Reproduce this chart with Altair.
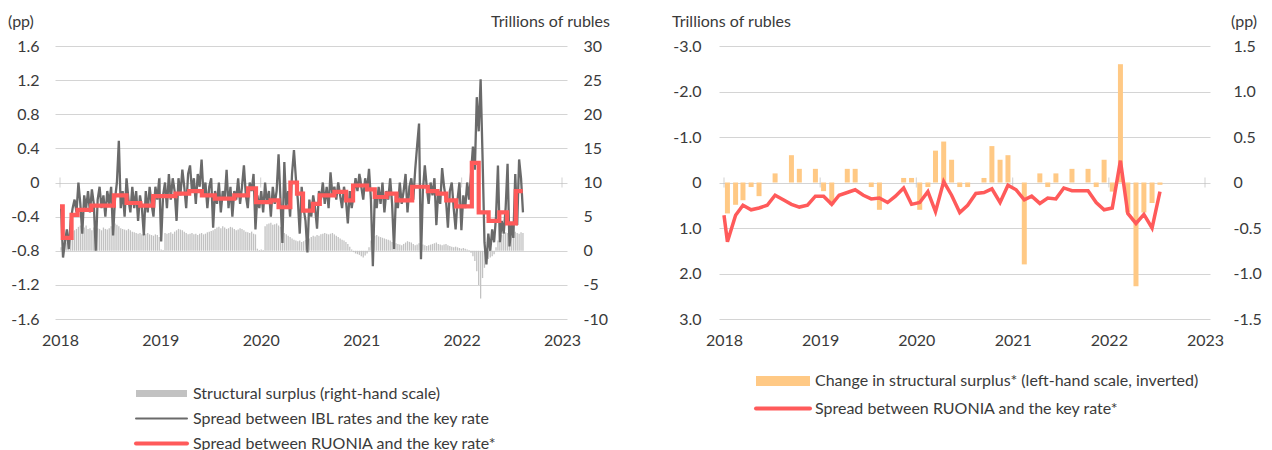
import altair as alt
import pandas as pd

FONT = "Lato"
TEXT = "#3a3a3a"
GRID = "#d4d4d4"
RED = "#ff5a5a"
DARK = "#6a6a6a"
LIGHT = "#c2c2c2"
ORANGE = "#ffc985"
FS = 16

# ---------------- Left chart data ----------------
# weekly spread between IBL rates and the key rate (pp), from 2018-01-05
ibl_start = "2018-01-05"
ibl = [
    -0.30, -0.88, -0.70, -0.55, -0.78, -0.45, -0.30, -0.20, -0.35, 0.00,
    -0.25, -0.60, -0.15, -0.30, -0.10, -0.35, -0.08, -0.25, -0.80, -0.20,
    -0.05, -0.30, -0.15, -0.40, -0.10, -0.25, -0.05, -0.62, -0.20, 0.00,
    0.49, -0.30, -0.10, -0.40, 0.05, -0.20, -0.35, -0.05, -0.30, -0.10,
    -0.45, -0.15, -0.30, -0.62, -0.10, -0.35, -0.05, -0.25, -0.40, -0.05,
    -0.20, 0.05, -0.69, -0.15, 0.00, -0.30, 0.10, -0.20, 0.05, -0.10,
    -0.45, 0.05, -0.15, 0.15, -0.05, -0.30, 0.10, 0.20, -0.10, 0.05,
    -0.25, 0.10, -0.05, 0.27, -0.15, 0.00, -0.30, -0.05, 0.05, -0.53,
    -0.10, -0.25, 0.00, -0.35, -0.10, -0.20, 0.15, -0.30, -0.05, -0.40,
    -0.10, -0.20, 0.05, -0.25, -0.05, 0.20, -0.15, -0.30, 0.00, -0.10,
    0.10, -0.55, -0.15, -0.30, -0.10, -0.35, 0.00, -0.25, -0.10, -0.40,
    -0.05, -0.25, -0.10, 0.33, -0.20, -0.71, 0.24, -0.30, -0.10, -0.40,
    0.10, 0.38, 0.05, -0.20, -0.60, -0.05, -0.30, -0.45, -0.82, -0.20,
    -0.40, -0.15, -0.30, -0.54, -0.10, -0.20, 0.00, -0.25, -0.05, -0.30,
    0.12, -0.15, -0.05, -0.20, 0.00, -0.15, -0.30, -0.05, -0.20, -0.48,
    -0.10, -0.30, -0.15, 0.05, -0.10, 0.10, -0.05, -0.20, 0.05, -0.10,
    0.16, -0.20, -0.98, -0.15, -0.30, -0.05, -0.25, 0.00, -0.35, -0.10,
    -0.20, 0.05, -0.25, -0.78, -0.15, -0.30, 0.00, -0.25, -0.10, 0.10,
    -0.35, -0.05, 0.05, -0.20, 0.15, 0.43, 0.69, -0.90, -0.10, 0.20,
    -0.05, -0.25, 0.00, -0.15, 0.05, -0.50, -0.10, -0.25, 0.17, -0.05,
    -0.20, -0.53, -0.10, 0.00, -0.30, -0.55, -0.20, 0.00, -0.56, -0.15,
    -0.30, 0.00, -0.20, 0.10, 0.42, 0.15, 1.00, 0.60, 1.21, 0.30,
    -0.70, -0.96, -0.60, -0.80, -0.55, -0.70, -0.40, 0.20, -0.70, -0.45,
    -0.60, -0.30, 0.22, -0.75, -0.50, -0.65, 0.10, -0.50, 0.27, 0.05, -0.35,
]

# weekly structural surplus (trillions of rubles), from 2018-01-05
surplus = [
    0.5, 0.8, 1.0, 1.2, 1.5, 2.2, 2.9, 3.0, 3.2, 3.5,
    3.7, 3.6, 3.4, 3.7, 3.2, 3.3, 3.0, 3.4, 3.1, 3.3,
    3.2, 3.0, 3.4, 3.2, 3.1, 3.3, 3.6, 3.9, 4.0, 3.8,
    3.6, 3.3, 3.2, 3.1, 3.0, 3.2, 3.0, 2.8, 2.7, 2.6,
    2.5, 2.6, 2.4, 2.3, 2.5, 2.6, 2.4, 2.3, 2.2, 2.4,
    2.3, 2.0, 0.2, 0.1, 2.6, 2.5, 2.6, 2.7, 2.5, 2.8,
    3.0, 3.2, 3.1, 3.0, 2.8, 2.6, 2.4, 2.5, 2.6, 2.4,
    2.5, 2.3, 2.5, 2.6, 2.4, 2.5, 2.7, 2.8, 2.9, 3.0,
    3.2, 3.4, 3.5, 3.3, 3.6, 3.4, 3.2, 3.3, 3.5, 3.4,
    3.2, 3.0, 3.1, 3.3, 3.2, 3.0, 2.8, 2.7, 2.6, 2.8,
    2.5, 2.4, 0.3, 0.1, 0.2, 0.1, 3.6, 3.9, 4.0, 4.1,
    3.8, 3.9, 4.0, 3.7, 3.5, 3.2, 2.6, 2.4, 2.2, 2.0,
    1.8, 1.6, 1.5, 1.4, 1.5, 1.3, 1.4, 1.6, 1.5, 1.8,
    2.0, 2.2, 2.1, 2.3, 2.2, 2.4, 2.5, 2.6, 2.5, 2.4,
    2.5, 2.6, 2.4, 2.2, 2.0, 1.8, 1.6, 1.5, 1.3, 1.0,
    0.6, 0.2, -0.2, -0.4, -0.5, -0.6, -0.8, -1.0, -0.7, -0.4,
    0.5, 1.5, 2.0, 2.2, 2.3, 2.1, 2.0, 1.9, 1.8, 1.7,
    1.6, 1.5, 1.3, 1.2, 1.1, 1.0, 0.9, 0.8, 1.0, 1.2,
    1.4, 1.3, 1.2, 1.0, 0.8, 0.9, 1.1, 1.0, 0.9, 0.8,
    0.7, 0.8, 0.9, 1.0, 1.1, 1.2, 1.0, 0.9, 0.8, 0.9,
    1.0, 0.8, 0.7, 0.6, 0.5, 0.6, 0.5, 0.4, 0.3, 0.4,
    0.3, 0.2, 0.1, -0.3, -0.8, -1.5, -3.0, -5.0, -7.0, -4.0,
    -2.5, -1.5, -1.2, -1.0, -0.8, -0.5, 0.5, 1.5, 2.0, 2.3,
    2.5, 2.7, 2.6, 2.4, 2.5, 2.7, 2.8, 2.6, 2.5, 2.7, 2.6,
]

# RUONIA minus key rate (pp), step changes
ruonia_dates = [
    "2018-01-01", "2018-01-11", "2018-02-12", "2018-03-06", "2018-04-25",
    "2018-07-16", "2018-08-31", "2018-10-20", "2018-12-06", "2019-02-25",
    "2019-04-16", "2019-06-01", "2019-07-18", "2019-09-27", "2019-11-16",
    "2019-12-15", "2020-02-06", "2020-03-06", "2020-04-18", "2020-05-12",
    "2020-06-03", "2020-07-09", "2020-08-03", "2020-09-25", "2020-11-07",
    "2020-12-02", "2021-01-22", "2021-02-19", "2021-04-03", "2021-05-09",
    "2021-07-05", "2021-08-31", "2021-10-05", "2021-11-06", "2021-12-12",
    "2022-02-07", "2022-03-04", "2022-04-09", "2022-05-18", "2022-06-15",
    "2022-07-17", "2022-08-11",
]
ruonia_steps = [
    -0.28, -0.65, -0.38, -0.32, -0.27, -0.15, -0.24, -0.27, -0.16, -0.13,
    -0.10, -0.15, -0.19, -0.15, -0.07, -0.23, -0.21, -0.29, 0.00, -0.13,
    -0.33, -0.25, -0.15, -0.11, -0.21, -0.035, -0.08, -0.17, -0.13, -0.21,
    -0.05, -0.10, -0.13, -0.21, -0.28, 0.23, -0.35, -0.45, -0.35, -0.48,
    -0.10, -0.10,
]

# ---------------- Right chart data ----------------
months = [f"{y}-{m:02d}-14" for y in range(2018, 2023) for m in range(1, 13)][:55]
surplus_change = [
    0.68, 0.49, 0.39, 0.10, 0.30, 0.00, -0.20, 0.00, -0.60, -0.30, 0.00, -0.30,
    0.19, 0.49, 0.00, -0.30, -0.30, 0.00, 0.10, 0.60, 0.00, 0.00, -0.10, -0.10,
    0.60, 0.10, -0.70, -0.90, -0.50, 0.10, 0.10, 0.00, -0.10, -0.80, -0.50, -0.60,
    0.00, 1.80, 0.00, -0.20, 0.10, -0.20, 0.00, -0.30, 0.00, -0.30, 0.10, -0.50,
    0.20, -2.60, 0.66, 2.28, 0.66, 0.45, 0.05,
]
ruonia_start = ("2018-01-01", -0.36)
ruonia_monthly = [
    -0.65, -0.36, -0.25, -0.30, -0.28, -0.25, -0.14, -0.19, -0.24, -0.27, -0.25, -0.15,
    -0.15, -0.24, -0.14, -0.11, -0.08, -0.14, -0.18, -0.17, -0.22, -0.15, -0.06, -0.24,
    -0.22, -0.10, -0.32, 0.01, -0.14, -0.33, -0.25, -0.12, -0.11, -0.07, -0.22, -0.03,
    -0.08, -0.19, -0.15, -0.23, -0.17, -0.18, -0.06, -0.09, -0.09, -0.09, -0.22, -0.30,
    -0.28, 0.24, -0.34, -0.45, -0.35, -0.50, -0.10,
]

year_ticks = [f"{y}-01-01" for y in range(2018, 2024)]
left_pp_ticks = [round(-1.6 + 0.4 * i, 1) for i in range(9)]
left_tn_ticks = list(range(-10, 31, 5))
right_tn_ticks = [-3.0, -2.0, -1.0, 0.0, 1.0, 2.0, 3.0]
right_pp_ticks = [-1.5, -1.0, -0.5, 0.0, 0.5, 1.0, 1.5]

left_legend = [
    "Structural surplus (right-hand scale)",
    "Spread between IBL rates and the key rate",
    "Spread between RUONIA and the key rate*",
]
right_legend = [
    "Change in structural surplus* (left-hand scale, inverted)",
    "Spread between RUONIA and the key rate*",
]
unit_pp = "(pp)"
unit_tn = "Trillions of rubles"

# ---------------- build ----------------
def label_expr(dec):
    return (f"datum.value == 0 ? '0' : (datum.value < 0 ? '-' : '') + "
            f"format(abs(datum.value), '.{dec}f')")

xdom = [alt.DateTime(year=2018, month=1, date=1), alt.DateTime(year=2023, month=1, date=1)]
year_vals = [alt.DateTime(year=y, month=1, date=1) for y in range(2018, 2024)]

X_AXIS = alt.Axis(values=year_vals, format="%Y", title=None, grid=False,
                  domain=False, ticks=False, labelPadding=13,
                  labelFontSize=FS, labelColor=TEXT, labelFont=FONT,
                  labelOverlap=False)
X_SCALE = alt.Scale(domain=xdom)
NOVIEW = alt.ViewBackground(stroke=None)


def xenc():
    return alt.X("date:T", scale=X_SCALE, axis=X_AXIS)


def yaxis(orient, values, dec, pad, grid):
    return alt.Axis(orient=orient, values=values, labelExpr=label_expr(dec),
                    title=None, grid=grid, gridColor=GRID, gridWidth=1,
                    domain=False, ticks=False, labelPadding=pad,
                    labelFontSize=FS, labelColor=TEXT, labelFont=FONT,
                    labelOverlap=False, labelBound=False,
                    labelAlign="left" if orient == "right" else "right")


one = pd.DataFrame({"a": [0]})


def txt(x, y, s, align="left"):
    return alt.Chart(one).mark_text(align=align, baseline="middle", fontSize=FS,
                                    color=TEXT, font=FONT).encode(
        x=alt.value(x), y=alt.value(y), text=alt.value(s))


def sw_rect(x1, x2, y1, y2, color):
    return alt.Chart(one).mark_rect(color=color).encode(
        x=alt.value(x1), x2=alt.value(x2), y=alt.value(y1), y2=alt.value(y2))


def sw_line(x1, x2, y, color, w):
    return alt.Chart(one).mark_rule(color=color, strokeWidth=w, strokeCap="round").encode(
        x=alt.value(x1), x2=alt.value(x2), y=alt.value(y))


ticks_df = pd.DataFrame({"date": year_ticks, "v": [0] * len(year_ticks)})

# Left chart
ibl_df = pd.DataFrame({"date": pd.date_range(ibl_start, periods=len(ibl), freq="7D").strftime("%Y-%m-%d"), "v": ibl})
sur_df = pd.DataFrame({"date": pd.date_range(ibl_start, periods=len(surplus), freq="7D").strftime("%Y-%m-%d"), "v": surplus})
ru_df = pd.DataFrame({"date": ruonia_dates, "v": ruonia_steps})

L_W, L_H = 512, 273
YPP = alt.Scale(domain=[-1.6, 1.6], nice=False, zero=False)
YPP_AX = yaxis("left", left_pp_ticks, 1, 16, True)

# first layer: left axis with grid, zero-line ticks, titles and legend
l_base = alt.layer(
    alt.Chart(ticks_df).mark_tick(orient="vertical", size=10, thickness=1, color="#bdbdbd").encode(
        x=xenc(), y=alt.Y("v:Q", scale=YPP, axis=YPP_AX)),
    txt(-47, -24, unit_pp), txt(555, -24, unit_tn, "right"),
    sw_rect(81, 132, 344, 351, LIGHT), txt(138, 347.5, left_legend[0]),
    sw_line(81, 132, 372.5, DARK, 2), txt(138, 372.5, left_legend[1]),
    sw_line(81, 132, 397.5, RED, 4), txt(138, 397.5, left_legend[2]),
)
# second layer: structural surplus bars on the right-hand scale
l_bars = alt.Chart(sur_df).mark_bar(width=1.3, color=LIGHT).encode(
    x=xenc(),
    y=alt.Y("v:Q", scale=alt.Scale(domain=[-10, 30], nice=False, zero=False),
            axis=yaxis("right", left_tn_ticks, 0, 16, False)),
)
# third layer: the two spreads on the same pp range (no axis of its own)
l_lines = alt.layer(
    alt.Chart(ibl_df).mark_line(color=DARK, strokeWidth=2.3).encode(
        x=xenc(), y=alt.Y("v:Q", scale=YPP, axis=None)),
    alt.Chart(ru_df).mark_line(color=RED, strokeWidth=4.2, interpolate="step-after").encode(
        x=xenc(), y=alt.Y("v:Q", scale=YPP, axis=None)),
)
left = alt.layer(l_base, l_bars, l_lines).resolve_scale(y="independent").properties(
    width=L_W, height=L_H, view=NOVIEW)

# Right chart
R_W, R_H = 491, 273
bar_df = pd.DataFrame({"date": months, "v": surplus_change})
rr_df = pd.DataFrame({"date": [ruonia_start[0]] + months, "v": [ruonia_start[1]] + ruonia_monthly})
YTN = alt.Scale(domain=[-3, 3], reverse=True, nice=False, zero=False)
YTN_AX = yaxis("left", right_tn_ticks, 1, 18, True)

r_inner = alt.layer(
    alt.Chart(ticks_df).mark_tick(orient="vertical", size=10, thickness=1, color="#bdbdbd").encode(
        x=xenc(), y=alt.Y("v:Q", scale=YTN, axis=YTN_AX)),
    alt.Chart(bar_df).mark_bar(width=5, color=ORANGE).encode(
        x=xenc(), y=alt.Y("v:Q", scale=YTN, axis=YTN_AX)),
    txt(-47, -24, unit_tn), txt(538, -24, unit_pp, "right"),
    sw_rect(37, 91, 330, 340, ORANGE), txt(96, 335, right_legend[0]),
    sw_line(37, 91, 362.5, RED, 4), txt(96, 362.5, right_legend[1]),
)
r_line = alt.Chart(rr_df).mark_line(color=RED, strokeWidth=3.5).encode(
    x=xenc(), y=alt.Y("v:Q", scale=alt.Scale(domain=[-1.5, 1.5], nice=False, zero=False),
                      axis=yaxis("right", right_pp_ticks, 1, 23, False)))
right = alt.layer(r_inner, r_line).resolve_scale(y="independent").properties(
    width=R_W, height=R_H, view=NOVIEW)

chart = alt.hconcat(left, right, spacing=62).properties(
    padding={"left": 0, "top": 6, "right": 0, "bottom": 0}
).configure_view(stroke=None).configure(background="white")

chart.save("out.html", embed_options={"renderer": "svg", "actions": False})
